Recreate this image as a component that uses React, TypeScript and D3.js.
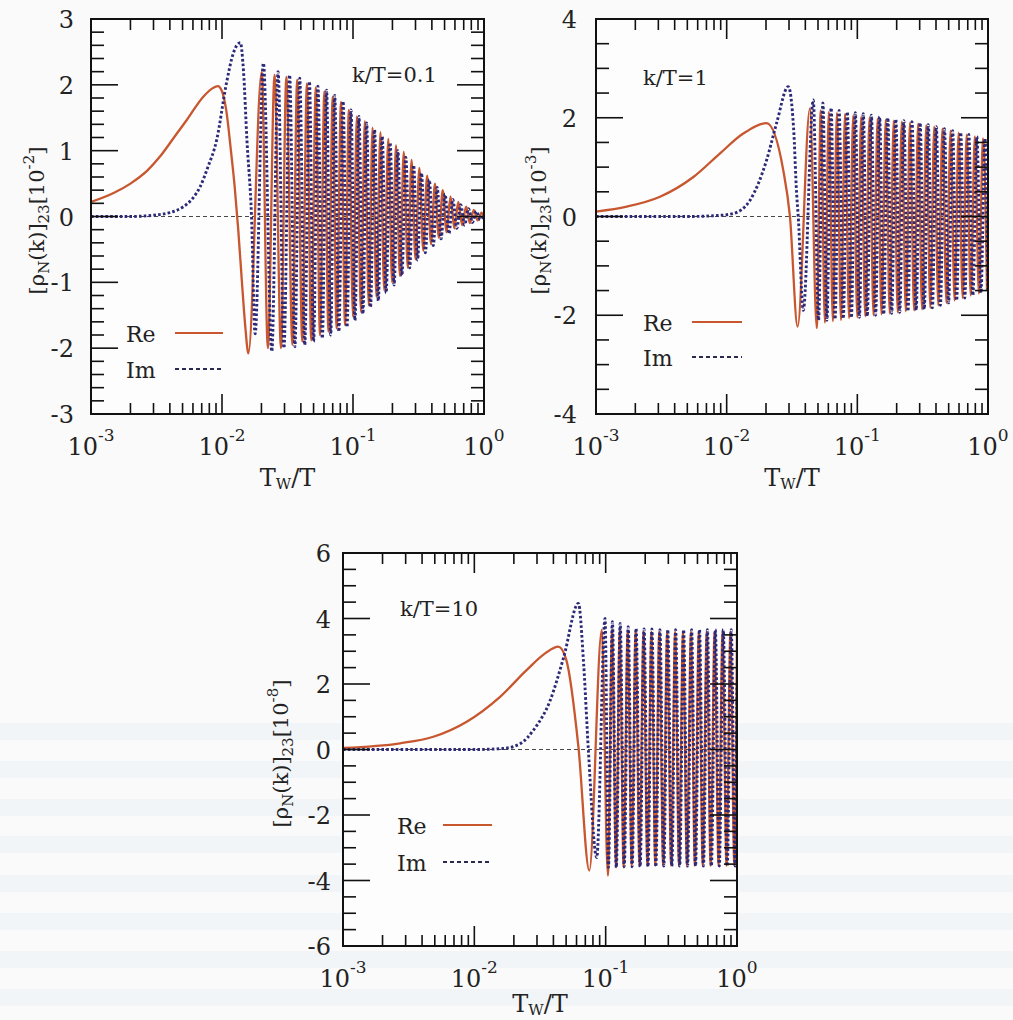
import React from 'react';
import * as d3 from 'd3';

type Pt = [number, number];

// x axis decades (T_W/T)
const xMajorTicks = [0.001, 0.01, 0.1, 1];
const xMajorExp = ['-3', '-2', '-1', '0'];
const xMinorMultipliers = [2, 3, 4, 5, 6, 7, 8, 9];

// ---------- Panel 1 : k/T = 0.1, units 10^-2 ----------
const re1: Pt[] = [
  [0.001, 0.22], [0.0015, 0.36], [0.002, 0.5], [0.0027, 0.7], [0.00336, 0.91], [0.0043, 1.2],
  [0.0054, 1.47], [0.0072, 1.82], [0.0085, 1.95], [0.0093, 1.98], [0.01, 1.9], [0.0108, 1.6],
  [0.0117, 1.0], [0.0125, 0.45], [0.0133, -0.2], [0.0142, -1.0], [0.0151, -1.7], [0.0159, -2.08],
  [0.0201, 2.2],
  [0.0224, -2.0], [0.0252, 2.15], [0.0282, -2.0], [0.031, 2.12], [0.0345, -1.95], [0.0375, 2.08],
  [0.041, -1.9], [0.0445, 2.02], [0.048, -1.88], [0.052, 1.96], [0.056, -1.8], [0.0605, 1.9],
  [0.065, -1.75], [0.07, 1.82], [0.075, -1.7], [0.081, 1.74], [0.087, -1.65], [0.093, 1.62],
  [0.1, -1.52], [0.107, 1.52], [0.115, -1.45], [0.123, 1.45], [0.132, -1.35], [0.141, 1.35],
  [0.151, -1.22], [0.162, 1.28], [0.173, -1.12], [0.186, 1.18], [0.199, -1.0], [0.213, 1.08],
  [0.228, -0.9], [0.244, 0.98], [0.262, -0.78], [0.28, 0.86], [0.3, -0.65], [0.321, 0.74],
  [0.344, -0.52], [0.368, 0.62], [0.394, -0.42], [0.422, 0.5], [0.452, -0.32], [0.484, 0.4],
  [0.518, -0.24], [0.555, 0.3], [0.594, -0.18], [0.636, 0.22], [0.681, -0.13], [0.73, 0.15],
  [0.78, -0.1], [0.836, 0.1], [0.895, -0.06], [0.958, 0.06], [1.0, -0.03],
];
const im1: Pt[] = [
  [0.001, 0], [0.002, 0], [0.003, 0.02], [0.004, 0.06], [0.005, 0.14], [0.006, 0.28],
  [0.0068, 0.45], [0.0078, 0.75], [0.0091, 1.16], [0.0108, 2.02], [0.0122, 2.48], [0.0138, 2.64],
  [0.0146, 2.2], [0.0155, 1.16], [0.0168, 0], [0.0179, -1.78], [0.0207, 2.33],
  [0.024, -2.05], [0.0268, 2.2], [0.0297, -2.0], [0.0328, 2.15], [0.036, -1.98], [0.0392, 2.1],
  [0.0428, -1.95], [0.0465, 2.05], [0.05, -1.9], [0.054, 1.98], [0.0583, -1.85], [0.0628, 1.92],
  [0.0675, -1.8], [0.0725, 1.84], [0.078, -1.75], [0.084, 1.75], [0.09, -1.68], [0.0965, 1.62],
  [0.1035, -1.58], [0.111, 1.52], [0.119, -1.48], [0.127, 1.42], [0.136, -1.38], [0.146, 1.32],
  [0.156, -1.28], [0.167, 1.22], [0.179, -1.16], [0.192, 1.12], [0.206, -1.04], [0.22, 1.0],
  [0.236, -0.9], [0.253, 0.9], [0.271, -0.78], [0.29, 0.78], [0.311, -0.66], [0.333, 0.66],
  [0.357, -0.55], [0.382, 0.56], [0.41, -0.44], [0.439, 0.44], [0.47, -0.34], [0.504, 0.34],
  [0.54, -0.26], [0.578, 0.26], [0.62, -0.18], [0.664, 0.18], [0.711, -0.13], [0.762, 0.12],
  [0.816, -0.09], [0.874, 0.08], [0.936, -0.05], [1.0, 0.04],
];

// ---------- Panel 2 : k/T = 1, units 10^-3 ----------
const re2: Pt[] = [
  [0.001, 0.1], [0.00172, 0.2], [0.00309, 0.4], [0.00556, 0.8], [0.0089, 1.28], [0.0134, 1.68],
  [0.0202, 1.89], [0.0271, 0.94], [0.0305, 0], [0.0349, -2.23], [0.0434, 2.19], [0.0489, -2.26],
  [0.0525, 2.15], [0.0565, -2.15], [0.0605, 2.12], [0.065, -2.12], [0.0698, 2.1], [0.075, -2.1],
  [0.0805, 2.08], [0.0865, -2.06], [0.093, 2.05], [0.1, -2.04], [0.107, 2.02], [0.115, -2.02],
  [0.124, 2.0], [0.133, -2.0], [0.143, 1.98], [0.153, -1.98], [0.165, 1.96], [0.177, -1.96],
  [0.19, 1.94], [0.204, -1.94], [0.219, 1.92], [0.235, -1.92], [0.253, 1.9], [0.272, -1.9],
  [0.292, 1.88], [0.313, -1.88], [0.337, 1.85], [0.362, -1.85], [0.388, 1.82], [0.417, -1.8],
  [0.448, 1.78], [0.481, -1.75], [0.517, 1.74], [0.555, -1.7], [0.596, 1.7], [0.64, -1.65],
  [0.687, 1.66], [0.738, -1.6], [0.793, 1.62], [0.852, -1.56], [0.915, 1.58], [0.983, -1.5],
];
const im2: Pt[] = [
  [0.001, 0], [0.005, 0], [0.0085, 0.02], [0.0112, 0.06], [0.0151, 0.33], [0.0202, 1.14],
  [0.0241, 1.89], [0.0296, 2.63], [0.0325, 1.8], [0.0343, 0.47], [0.0353, 0], [0.0386, -1.9],
  [0.046, 2.36], [0.0505, -2.1], [0.0545, 2.3], [0.0585, -2.1], [0.063, 2.2], [0.0675, -2.08],
  [0.0725, 2.15], [0.078, -2.07], [0.0838, 2.12], [0.09, -2.05], [0.0965, 2.1], [0.1037, -2.04],
  [0.111, 2.08], [0.119, -2.02], [0.128, 2.05], [0.138, -2.0], [0.148, 2.02], [0.159, -1.98],
  [0.171, 2.0], [0.183, -1.96], [0.197, 1.97], [0.211, -1.94], [0.227, 1.94], [0.244, -1.92],
  [0.262, 1.92], [0.282, -1.9], [0.302, 1.9], [0.325, -1.88], [0.349, 1.86], [0.375, -1.85],
  [0.402, 1.82], [0.432, -1.8], [0.464, 1.78], [0.499, -1.75], [0.536, 1.74], [0.575, -1.7],
  [0.618, 1.7], [0.664, -1.65], [0.713, 1.66], [0.766, -1.6], [0.822, 1.62], [0.883, -1.55],
  [0.948, 1.58], [1.0, -1.5],
];

// ---------- Panel 3 : k/T = 10, units 10^-8 ----------
const re3: Pt[] = [
  [0.001, 0.05], [0.00272, 0.19], [0.00487, 0.39], [0.00875, 0.85], [0.0157, 1.61], [0.0251, 2.43],
  [0.035, 2.95], [0.0436, 3.14], [0.0502, 2.73], [0.062, 0.09], [0.0751, -3.7], [0.0934, 3.65],
  [0.104, -3.85], [0.112, 3.65], [0.12, -3.6], [0.128, 3.65], [0.137, -3.6], [0.147, 3.62],
  [0.158, -3.55], [0.169, 3.62], [0.181, -3.55], [0.194, 3.6], [0.208, -3.55], [0.223, 3.6],
  [0.239, -3.55], [0.256, 3.6], [0.274, -3.55], [0.294, 3.6], [0.315, -3.55], [0.338, 3.6],
  [0.362, -3.55], [0.388, 3.6], [0.416, -3.55], [0.446, 3.6], [0.478, -3.55], [0.512, 3.6],
  [0.549, -3.55], [0.588, 3.6], [0.63, -3.55], [0.675, 3.6], [0.724, -3.55], [0.776, 3.6],
  [0.832, -3.55], [0.891, 3.6], [0.955, -3.55], [1.0, 3.6],
];
const im3: Pt[] = [
  [0.001, 0], [0.01, 0], [0.0165, 0.03], [0.0228, 0.2], [0.0283, 0.6], [0.0378, 1.5],
  [0.048, 2.83], [0.062, 4.46], [0.068, 2.6], [0.0738, 0], [0.0855, -3.3], [0.0989, 4.0],
  [0.105, -3.6], [0.1125, 3.9], [0.1205, -3.6], [0.129, 3.85], [0.1385, -3.58], [0.1485, 3.75],
  [0.159, -3.58], [0.1705, 3.7], [0.183, -3.58], [0.196, 3.68], [0.21, -3.58], [0.225, 3.68],
  [0.241, -3.58], [0.259, 3.66], [0.277, -3.56], [0.297, 3.66], [0.319, -3.56], [0.341, 3.66],
  [0.366, -3.56], [0.392, 3.66], [0.42, -3.56], [0.451, 3.66], [0.483, -3.56], [0.518, 3.66],
  [0.555, -3.56], [0.595, 3.66], [0.638, -3.56], [0.684, 3.66], [0.733, -3.56], [0.786, 3.66],
  [0.842, -3.56], [0.903, 3.66], [0.968, -3.56], [1.0, 2.0],
];

const FONT = "DejaVu Serif";
const RE_COLOR = '#c8562e';
const IM_COLOR = '#2c2a78';

type PanelProps = {
  id: string;
  left: number; top: number; width: number; height: number;
  yMin: number; yMax: number; yMajorStep: number; yMinorStep: number;
  yLabelRight: number; yTitleX: number; xTitleY: number; exp: string;
  kText: string; kX: number; kY: number;
  legTextX: number; legLineX1: number; legLineX2: number; legReY: number; legImY: number;
  re: Pt[]; im: Pt[];
};

function Panel(p: PanelProps) {
  const right = p.left + p.width;
  const bottom = p.top + p.height;
  const x = d3.scaleLog().domain([1e-3, 1]).range([p.left, right]);
  const y = d3.scaleLinear().domain([p.yMin, p.yMax]).range([bottom, p.top]);
  const line = d3.line<Pt>().x(d => x(d[0])).y(d => y(d[1])).curve(d3.curveMonotoneX);

  const xMinor: number[] = [];
  xMajorTicks.slice(0, 3).forEach(d => xMinorMultipliers.forEach(m => xMinor.push(d * m)));
  const nMinor = Math.round((p.yMax - p.yMin) / p.yMinorStep);
  const yAll = d3.range(nMinor + 1).map(i => p.yMin + i * p.yMinorStep);
  const isMajor = (v: number) => Math.abs(v / p.yMajorStep - Math.round(v / p.yMajorStep)) < 1e-6;

  const XMAJ = 20, XMIN = 11, YMAJ = 27, YMIN = 13;
  const clipId = `clip-${p.id}`;
  const sub = 15;

  return (
    <g>
      <defs>
        <clipPath id={clipId}>
          <rect x={p.left} y={p.top} width={p.width} height={p.height} />
        </clipPath>
      </defs>
      <rect x={p.left} y={p.top} width={p.width} height={p.height} fill="#fdfdfd" />
      <g clipPath={`url(#${clipId})`}>
        <line x1={p.left} x2={right} y1={y(0)} y2={y(0)} stroke="#333" strokeWidth={0.9} strokeDasharray="4,3" />
        <path d={line(p.re) || ''} fill="none" stroke={RE_COLOR} strokeWidth={2.3} />
        <path d={line(p.im) || ''} fill="none" stroke={IM_COLOR} strokeWidth={2.9} strokeDasharray="2.6,2.2" />
      </g>
      {/* ticks */}
      <g stroke="#111" strokeWidth={1.6}>
        {xMajorTicks.map(v => (
          <g key={`xM${v}`}>
            <line x1={x(v)} x2={x(v)} y1={bottom} y2={bottom - XMAJ} />
            <line x1={x(v)} x2={x(v)} y1={p.top} y2={p.top + XMAJ} />
          </g>
        ))}
        {xMinor.map(v => (
          <g key={`xm${v}`}>
            <line x1={x(v)} x2={x(v)} y1={bottom} y2={bottom - XMIN} />
            <line x1={x(v)} x2={x(v)} y1={p.top} y2={p.top + XMIN} />
          </g>
        ))}
        {yAll.map(v => {
          const len = isMajor(v) ? YMAJ : YMIN;
          return (
            <g key={`y${v}`}>
              <line x1={p.left} x2={p.left + len} y1={y(v)} y2={y(v)} />
              <line x1={right} x2={right - len} y1={y(v)} y2={y(v)} />
            </g>
          );
        })}
      </g>
      <rect x={p.left} y={p.top} width={p.width} height={p.height} fill="none" stroke="#111" strokeWidth={2} />
      {/* tick labels */}
      <g style={{ fontFamily: FONT }} fontSize={24} fill="#222">
        {yAll.filter(isMajor).map(v => (
          <text key={`yl${v}`} x={p.yLabelRight} y={y(v) + 9} textAnchor="end">{String(Math.round(v))}</text>
        ))}
        {xMajorTicks.map((v, i) => (
          <text key={`xl${v}`} x={x(v)} y={bottom + 41} textAnchor="middle">
            10<tspan dy={-14} fontSize={17}>{xMajorExp[i]}</tspan>
          </text>
        ))}
        <text x={(p.left + right) / 2} y={p.xTitleY} textAnchor="middle">
          T<tspan dy={3} fontSize={sub}>W</tspan><tspan dy={-3}>/T</tspan>
        </text>
        <text transform={`translate(${p.yTitleX},${(p.top + bottom) / 2 + 4}) rotate(-90)`} textAnchor="middle" fontSize={21}>
          [ρ<tspan dy={5} fontSize={sub}>N</tspan><tspan dy={-5}>(k)]</tspan>
          <tspan dy={5} fontSize={sub}>23</tspan><tspan dy={-5}>[10</tspan>
          <tspan dy={-10} fontSize={sub}>{p.exp}</tspan><tspan dy={10}>]</tspan>
        </text>
        <text x={p.kX} y={p.kY} fontSize={21}>{p.kText}</text>
        <text x={p.legTextX} y={p.legReY + 9} fontSize={22}>Re</text>
        <text x={p.legTextX} y={p.legImY + 9} fontSize={22}>Im</text>
      </g>
      <line x1={p.legLineX1} x2={p.legLineX2} y1={p.legReY} y2={p.legReY} stroke={RE_COLOR} strokeWidth={2} />
      <line x1={p.legLineX1} x2={p.legLineX2} y1={p.legImY} y2={p.legImY} stroke="#2a2a50" strokeWidth={2} strokeDasharray="4,3" />
    </g>
  );
}

const bleedBands = [730, 768, 806, 843, 882, 920, 958, 996];

export default function App() {
  return (
    <svg width={1013} height={1020} style={{ position: 'absolute', left: 0, top: 0, display: 'block', fontFamily: FONT }}>
      <rect x={0} y={0} width={1013} height={1020} fill="#fafafa" />
      {bleedBands.map(b => (
        <rect key={b} x={0} y={b - 7} width={1013} height={17} fill="#e9eff6" opacity={0.45} />
      ))}
      <Panel id="p1" left={91} top={19} width={393} height={395} yMin={-3} yMax={3} yMajorStep={1} yMinorStep={0.2}
        yLabelRight={74} yTitleX={44} xTitleY={486} exp="-2" kText="k/T=0.1" kX={352} kY={82}
        legTextX={126} legLineX1={175} legLineX2={223} legReY={333} legImY={369} re={re1} im={im1} />
      <Panel id="p2" left={596} top={19} width={392} height={395} yMin={-4} yMax={4} yMajorStep={2} yMinorStep={0.5}
        yLabelRight={577} yTitleX={546} xTitleY={486} exp="-3" kText="k/T=1" kX={643} kY={85}
        legTextX={643} legLineX1={692} legLineX2={742} legReY={322} legImY={357} re={re2} im={im2} />
      <Panel id="p3" left={343} top={553} width={394} height={393} yMin={-6} yMax={6} yMajorStep={2} yMinorStep={0.5}
        yLabelRight={331} yTitleX={288} xTitleY={1012} exp="-8" kText="k/T=10" kX={400} kY={616}
        legTextX={397} legLineX1={443} legLineX2={492} legReY={825} legImY={862} re={re3} im={im3} />
    </svg>
  );
}
